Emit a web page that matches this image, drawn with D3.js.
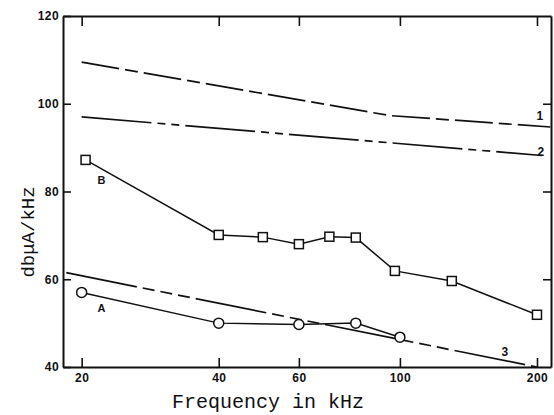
<!DOCTYPE html>
<html><head><meta charset="utf-8">
<script src="https://d3js.org/d3.v7.min.js"></script>
<style>body{margin:0;background:#fff}svg{display:block}</style>
</head><body>
<svg id="c" width="554" height="415"></svg>
<script>
// ---- data ----
const xTicks = [20, 40, 60, 100, 200];
const yTicks = [40, 60, 80, 100, 120];
const seriesAFreq = [20, 40, 60, 80, 100];
const seriesAVal  = [57.0, 50.0, 49.7, 50.0, 46.8];
const seriesBFreq = [20.4, 40, 50, 60, 70, 80, 97.5, 130, 200];
const seriesBVal  = [87.2, 70.1, 69.6, 68.0, 69.7, 69.5, 61.9, 59.6, 51.9];
const curve1Freq = [20, 95, 214];
const curve1Val  = [109.5, 97.3, 94.7];
const curve2Freq = [20, 205];
const curve2Val  = [97.0, 88.2];
const curve3Freq = [18.5, 200];
const curve3Val  = [61.5, 40];
const curveLabels = ["1", "2", "3"];
const seriesLabels = ["A", "B"];

const svg = d3.select("#c");
const L = 63, R = 551, T = 16, B = 367;
const x = d3.scaleLog().domain([18.2, 214.7]).range([L, R]);
const y = d3.scaleLinear().domain([40, 120]).range([B, T]);

const ink = "#111";
function styleAxis(g, labels) {
  g.select(".domain").attr("stroke", ink).attr("stroke-width", 2);
  g.selectAll(".tick line").attr("stroke", ink).attr("stroke-width", 1.6);
  g.selectAll(".tick text")
    .attr("fill", ink)
    .style("font-family", "'Liberation Sans', Arial, sans-serif")
    .style("font-weight", "bold")
    .style("font-size", "12px")
    .style("letter-spacing", "0.4px")
    .style("display", labels ? null : "none");
}
const fmt = d3.format("d");
svg.append("g").attr("transform", `translate(0,${B})`)
  .call(d3.axisBottom(x).tickValues(xTicks).tickFormat(fmt).tickSize(-9).tickSizeOuter(0).tickPadding(6))
  .call(g => styleAxis(g, true));
svg.append("g").attr("transform", `translate(0,${T})`)
  .call(d3.axisTop(x).tickValues(xTicks).tickFormat(fmt).tickSize(-10).tickSizeOuter(0))
  .call(g => styleAxis(g, false));
svg.append("g").attr("transform", `translate(${L},0)`)
  .call(d3.axisLeft(y).tickValues(yTicks).tickFormat(fmt).tickSize(-8).tickSizeOuter(0).tickPadding(4))
  .call(g => styleAxis(g, true));
svg.append("g").attr("transform", `translate(${R},0)`)
  .call(d3.axisRight(y).tickValues(yTicks.slice(1, -1)).tickFormat(fmt).tickSize(-8).tickSizeOuter(0))
  .call(g => styleAxis(g, false));

// ---- curves ----
const line = d3.line().x(d => x(d[0])).y(d => y(d[1]));
const zip = (a, b) => a.map((v, i) => [v, b[i]]);
const curves = [
  {pts: zip(curve1Freq, curve1Val), dash: "38,6,13,6"},
  {pts: zip(curve2Freq, curve2Val), dash: "70,6,8,6,8,6"},
  {pts: zip(curve3Freq, curve3Val), dash: "72,6,12,6,12,6,12,6"}
];
curves.forEach(c => {
  svg.append("path").datum(c.pts).attr("d", line)
    .attr("fill", "none").attr("stroke", ink).attr("stroke-width", 1.7)
    .attr("stroke-dasharray", c.dash);
});

// ---- series ----
const A = zip(seriesAFreq, seriesAVal);
const Bs = zip(seriesBFreq, seriesBVal);
svg.append("path").datum(Bs).attr("d", line).attr("fill", "none").attr("stroke", ink).attr("stroke-width", 1.5);
svg.append("path").datum(A).attr("d", line).attr("fill", "none").attr("stroke", ink).attr("stroke-width", 1.5);
svg.selectAll(".sq").data(Bs).enter().append("rect")
  .attr("x", d => x(d[0]) - 4.5).attr("y", d => y(d[1]) - 4.5)
  .attr("width", 9).attr("height", 9)
  .attr("fill", "#fff").attr("stroke", ink).attr("stroke-width", 1.5);
svg.selectAll(".ci").data(A).enter().append("circle")
  .attr("cx", d => x(d[0])).attr("cy", d => y(d[1])).attr("r", 5)
  .attr("fill", "#fff").attr("stroke", ink).attr("stroke-width", 1.5);

// ---- labels ----
const lab = (t, px, py, size) => svg.append("text").text(t)
  .attr("x", px).attr("y", py).attr("text-anchor", "middle").attr("dominant-baseline", "central")
  .attr("fill", ink)
  .style("font-family", "'Liberation Sans', Arial, sans-serif")
  .style("font-weight", "bold").style("font-size", size + "px");
lab(curveLabels[0], x(203), y(97.2), 12);
lab(curveLabels[1], x(204), y(89.1), 12);
lab(curveLabels[2], x(170), y(43.5), 12);
lab(seriesLabels[0], x(22.1), y(53.5), 11);
lab(seriesLabels[1], x(22.1), y(82.6), 11);

// ---- axis titles ----
svg.append("text").text("Frequency in kHz")
  .attr("x", 268).attr("y", 408).attr("text-anchor", "middle").attr("fill", ink)
  .style("font-family", "'Liberation Mono', 'Courier New', monospace").style("font-size", "20px");
svg.append("text").text("dbμA/kHz")
  .attr("transform", "translate(34,232) rotate(-90)").attr("text-anchor", "middle").attr("fill", ink)
  .style("font-family", "'Liberation Mono', 'Courier New', monospace").style("font-size", "19px");
</script>
</body></html>
